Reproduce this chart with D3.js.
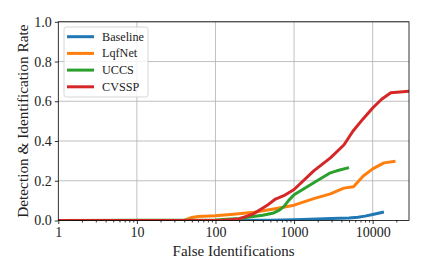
<!DOCTYPE html>
<html lang="en">
  <head>
    <meta charset="UTF-8" />
    <title>Detection & Identification Rate</title>
    <script src="https://cdnjs.cloudflare.com/ajax/libs/d3/7.9.0/d3.min.js"></script>
    <style>
      html, body { margin: 0; padding: 0; background: #fff; }
      svg { display: block; font-family: "Liberation Serif", "Times New Roman", serif; }
      .grid line { stroke: #b0b0b0; stroke-width: 0.8; }
      .series { fill: none; stroke-width: 3; stroke-linejoin: round; stroke-linecap: butt; }
    </style>
  </head>
  <body>
    <svg id="chart" width="428" height="275"></svg>
    <script>
      /* ---------- data ---------- */
      const seriesNames = ["Baseline", "LqfNet", "UCCS", "CVSSP"];
      const seriesColors = ["#1f77b4", "#ff7f0e", "#2ca02c", "#d62728"];

      const baselineFp = [1, 100, 500, 1000, 2000, 3000, 5000, 6500, 8000, 10000, 13900];
      const baselineRate = [0, 0, 0.001, 0.004, 0.007, 0.01, 0.013, 0.016, 0.022, 0.03, 0.043];

      const lqfnetFp = [1, 40, 50, 60, 100, 170, 310, 550, 1000, 1780, 2900, 4300, 5700, 7600, 10000, 13900, 19500];
      const lqfnetRate = [0, 0, 0.015, 0.02, 0.024, 0.032, 0.042, 0.058, 0.077, 0.11, 0.134, 0.163, 0.17, 0.224, 0.26, 0.29, 0.298];

      const uccsFp = [1, 100, 200, 300, 400, 550, 650, 740, 850, 1000, 1780, 2900, 3500, 5000];
      const uccsRate = [0, 0.002, 0.01, 0.02, 0.026, 0.038, 0.052, 0.07, 0.1, 0.13, 0.19, 0.24, 0.25, 0.266];

      const cvsspFp = [1, 120, 200, 309, 450, 580, 740, 1000, 1780, 2900, 4300, 5600, 7500, 10000, 13000, 17000, 29000];
      const cvsspRate = [0, 0, 0.008, 0.035, 0.075, 0.108, 0.125, 0.156, 0.25, 0.315, 0.38, 0.449, 0.51, 0.566, 0.61, 0.643, 0.65];

      const xTickValues = [1, 10, 100, 1000, 10000];
      const yTickValues = [0, 0.2, 0.4, 0.6, 0.8, 1.0];

      const series = [
        { fp: baselineFp, rate: baselineRate },
        { fp: lqfnetFp, rate: lqfnetRate },
        { fp: uccsFp, rate: uccsRate },
        { fp: cvsspFp, rate: cvsspRate },
      ];

      /* ---------- layout ---------- */
      const svg = d3.select("#chart");
      const plotLeft = 58.3, plotRight = 409, plotTop = 21.8, plotBottom = 220.5;
      const serif = "'Liberation Serif', 'Times New Roman', serif";

      const x = d3.scaleLog().domain([1, 29000]).range([plotLeft, plotRight]);
      const y = d3.scaleLinear().domain([0, 1]).range([plotBottom, plotTop]);

      const defs = svg.append("defs");
      defs.append("clipPath").attr("id", "plotclip")
        .append("rect")
        .attr("x", plotLeft).attr("y", plotTop)
        .attr("width", plotRight - plotLeft).attr("height", plotBottom - plotTop);

      // grid
      const grid = svg.append("g").attr("class", "grid");
      grid.selectAll("line.v").data(xTickValues.slice(1)).enter().append("line")
        .attr("x1", (d) => x(d)).attr("x2", (d) => x(d))
        .attr("y1", plotTop).attr("y2", plotBottom);
      grid.selectAll("line.h").data(yTickValues.slice(1)).enter().append("line")
        .attr("x1", plotLeft).attr("x2", plotRight)
        .attr("y1", (d) => y(d)).attr("y2", (d) => y(d));

      // axes
      const minorTicks = [];
      for (let e = 0; e < 5; e++) {
        for (let m = 2; m <= 9; m++) {
          const v = m * Math.pow(10, e);
          if (v < 29000) minorTicks.push(v);
        }
      }

      svg.append("g").attr("transform", `translate(0,${plotBottom})`)
        .call(d3.axisBottom(x).tickValues(xTickValues).tickFormat(d3.format("d")).tickSize(3.5).tickPadding(3.5));
      svg.append("g").attr("transform", `translate(0,${plotBottom})`)
        .call(d3.axisBottom(x).tickValues(minorTicks).tickFormat("").tickSize(2));
      svg.append("g").attr("transform", `translate(${plotLeft},0)`)
        .call(d3.axisLeft(y).tickValues(yTickValues).tickFormat(d3.format(".1f")).tickSize(3.5).tickPadding(3));

      svg.selectAll(".tick line").attr("stroke", "#000").attr("stroke-width", 0.8);
      svg.selectAll(".domain").remove();
      svg.selectAll(".tick text")
        .attr("font-family", serif)
        .attr("font-size", 14)
        .attr("fill", "#222");

      // series lines
      const line = d3.line().x((d) => x(d[0])).y((d) => y(d[1]));
      svg.append("g").attr("clip-path", "url(#plotclip)")
        .selectAll("path").data(series).enter().append("path")
        .attr("class", "series")
        .attr("stroke", (d, i) => seriesColors[i])
        .attr("d", (d) => line(d.fp.map((v, i) => [v, d.rate[i]])));

      // frame
      svg.append("rect")
        .attr("x", plotLeft).attr("y", plotTop)
        .attr("width", plotRight - plotLeft).attr("height", plotBottom - plotTop)
        .attr("fill", "none").attr("stroke", "#000").attr("stroke-width", 0.8);

      // axis labels
      svg.append("text")
        .attr("x", (plotLeft + plotRight) / 2).attr("y", 255.5)
        .attr("text-anchor", "middle")
        .attr("font-family", serif)
        .attr("font-size", 15).attr("fill", "#222")
        .text("False Identifications");
      svg.append("text")
        .attr("transform", `translate(28,${(plotTop + plotBottom) / 2}) rotate(-90)`)
        .attr("text-anchor", "middle")
        .attr("font-family", serif)
        .attr("font-size", 15.3).attr("fill", "#222")
        .text("Detection & Identification Rate");

      // legend
      const legend = svg.append("g");
      legend.append("rect")
        .attr("x", 64).attr("y", 27).attr("width", 84).attr("height", 70)
        .attr("rx", 2.5)
        .attr("fill", "#fff").attr("fill-opacity", 0.8)
        .attr("stroke", "#ccc").attr("stroke-width", 0.8);
      const item = legend.selectAll("g.item").data(seriesNames).enter().append("g")
        .attr("transform", (d, i) => `translate(0,${36.7 + i * 16.7})`);
      item.append("line")
        .attr("x1", 67).attr("x2", 94)
        .attr("stroke", (d, i) => seriesColors[i]).attr("stroke-width", 3);
      item.append("text")
        .attr("x", 102).attr("dy", "0.33em")
        .attr("font-family", serif)
        .attr("font-size", 12.2).attr("fill", "#222")
        .text((d) => d);
    </script>
  </body>
</html>
